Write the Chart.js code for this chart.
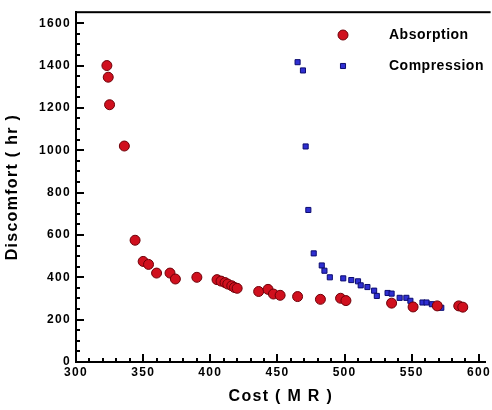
<!DOCTYPE html>
<html>
<head>
<meta charset="utf-8">
<script src="https://cdn.jsdelivr.net/npm/chart.js@4.4.1/dist/chart.umd.min.js"></script>
<style>
  html, body { margin: 0; padding: 0; background: #fff; overflow: hidden; }
  #wrap { width: 492px; height: 410px; position: relative; }
</style>
</head>
<body>
<div id="wrap"><canvas id="chart"></canvas></div>
<script>
// Absorption (red circles)
const absCost = [323, 324, 325, 336, 344, 350, 354, 360, 370, 374, 390, 405, 408, 411, 413, 416, 418, 420, 436, 443, 447, 452, 465, 482, 497, 501, 535, 551, 569, 585, 588];
const absDiscomfort = [1400, 1345, 1215, 1020, 575, 475, 461, 420, 420, 392, 400, 389, 382, 375, 368, 360, 352, 348, 333, 343, 321, 315, 309, 296, 301, 290, 278, 260, 265, 265, 259];

// Compression (blue squares)
const compCost = [465, 469, 471, 473, 477, 483, 485, 489, 499, 505, 510, 512, 517, 522, 524, 532, 535, 541, 546, 549, 558, 561, 565, 572];
const compDiscomfort = [1416, 1377, 1018, 718, 513, 456, 431, 400, 395, 387, 381, 362, 354, 337, 312, 326, 323, 303, 303, 289, 281, 281, 273, 256];

const xTicks = [300, 350, 400, 450, 500, 550, 600];
const yTicks = [0, 200, 400, 600, 800, 1000, 1200, 1400, 1600];
const xMinorStep = 10;
const yMinorStep = 50;

const toPoints = (xs, ys) => xs.map((x, i) => ({ x: x, y: ys[i] }));

const RED = "#d0101e", RED_EDGE = "#6e0008";
const BLUE = "#2f2fd2", BLUE_EDGE = "#0c0c70";
const FONT = "'Liberation Sans', Arial, sans-serif";

// the old plot has wide tracking on its axis text
const tracking = {
  id: "tracking",
  beforeDraw(chart) { chart.ctx.letterSpacing = "1.3px"; }
};

// inward major/minor ticks plus the top frame line
const frameTicks = {
  id: "frameTicks",
  afterDraw(chart) {
    const ctx = chart.ctx;
    const area = chart.chartArea;
    const xs = chart.scales.x, ys = chart.scales.y;
    ctx.save();
    ctx.fillStyle = "#000";
    for (let v = xTicks[0]; v <= xTicks[xTicks.length - 1]; v += xMinorStep) {
      const px = xs.getPixelForValue(v);
      const len = v % 50 === 0 ? 8 : 4;
      ctx.fillRect(Math.round(px) - 1, area.bottom - len, 2, len);
    }
    for (let v = yTicks[0]; v <= yTicks[yTicks.length - 1]; v += yMinorStep) {
      const py = ys.getPixelForValue(v);
      const len = v % 200 === 0 ? 8 : 4;
      ctx.fillRect(area.left, Math.round(py) - 1, len, 2);
    }
    ctx.fillRect(area.left - 1, area.top - 1, area.right - area.left + 6, 2);
    ctx.restore();
  }
};

// legend inside the plot, top right
const innerLegend = {
  id: "innerLegend",
  afterDraw(chart) {
    const { ctx } = chart;
    ctx.save();
    ctx.letterSpacing = "0.5px";
    chart.data.datasets.forEach((ds, i) => {
      const y = 35 + i * 31;
      ctx.fillStyle = ds.backgroundColor;
      ctx.strokeStyle = ds.borderColor;
      ctx.lineWidth = 1;
      Chart.helpers.drawPoint(ctx, {
        pointStyle: ds.pointStyle,
        radius: ds.pointRadius,
        borderWidth: 1,
        rotation: 0
      }, 343, y);
      ctx.fillStyle = "#000";
      ctx.font = "bold 14px " + FONT;
      ctx.textBaseline = "middle";
      ctx.textAlign = "left";
      ctx.fillText(ds.label, 389, y);
    });
    ctx.restore();
  }
};

new Chart(document.getElementById("chart"), {
  type: "scatter",
  data: {
    datasets: [
      {
        label: "Absorption",
        data: toPoints(absCost, absDiscomfort),
        pointStyle: "circle",
        pointRadius: 5,
        pointBorderWidth: 1,
        backgroundColor: RED,
        borderColor: RED_EDGE
      },
      {
        label: "Compression",
        data: toPoints(compCost, compDiscomfort),
        pointStyle: "rect",
        pointRadius: 3.6,
        pointBorderWidth: 1,
        backgroundColor: BLUE,
        borderColor: BLUE_EDGE
      }
    ]
  },
  options: {
    responsive: true,
    maintainAspectRatio: false,
    animation: false,
    events: [],
    layout: { padding: { top: 11, right: 1, left: 0, bottom: 0 } },
    plugins: {
      legend: { display: false },
      tooltip: { enabled: false }
    },
    scales: {
      x: {
        type: "linear",
        min: 300,
        max: 605,
        afterFit: s => { s.height = 48; },
        afterBuildTicks: s => { s.ticks = xTicks.map(v => ({ value: v })); },
        grid: { display: false, drawTicks: false },
        border: { display: true, color: "#000", width: 2 },
        ticks: {
          color: "#000", padding: 3,
          callback: v => String(v),
          font: { family: FONT, size: 12, weight: "bold" }
        },
        title: {
          display: true,
          text: "Cost ( M R )",
          color: "#000",
          padding: { top: 0, bottom: 4 },
          font: { family: FONT, size: 16, weight: "bold" }
        }
      },
      y: {
        type: "linear",
        min: 0,
        max: 1652,
        afterFit: s => { s.width = 76; },
        afterBuildTicks: s => { s.ticks = yTicks.map(v => ({ value: v })); },
        grid: { display: false, drawTicks: false },
        border: { display: true, color: "#000", width: 2 },
        ticks: {
          color: "#000", padding: 5,
          callback: v => String(v),
          font: { family: FONT, size: 12, weight: "bold" }
        },
        title: {
          display: true,
          text: "Discomfort ( hr )",
          color: "#000",
          padding: { top: 3, bottom: 0 },
          font: { family: FONT, size: 16, weight: "bold" }
        }
      }
    }
  },
  plugins: [tracking, frameTicks, innerLegend]
});
</script>
</body>
</html>
